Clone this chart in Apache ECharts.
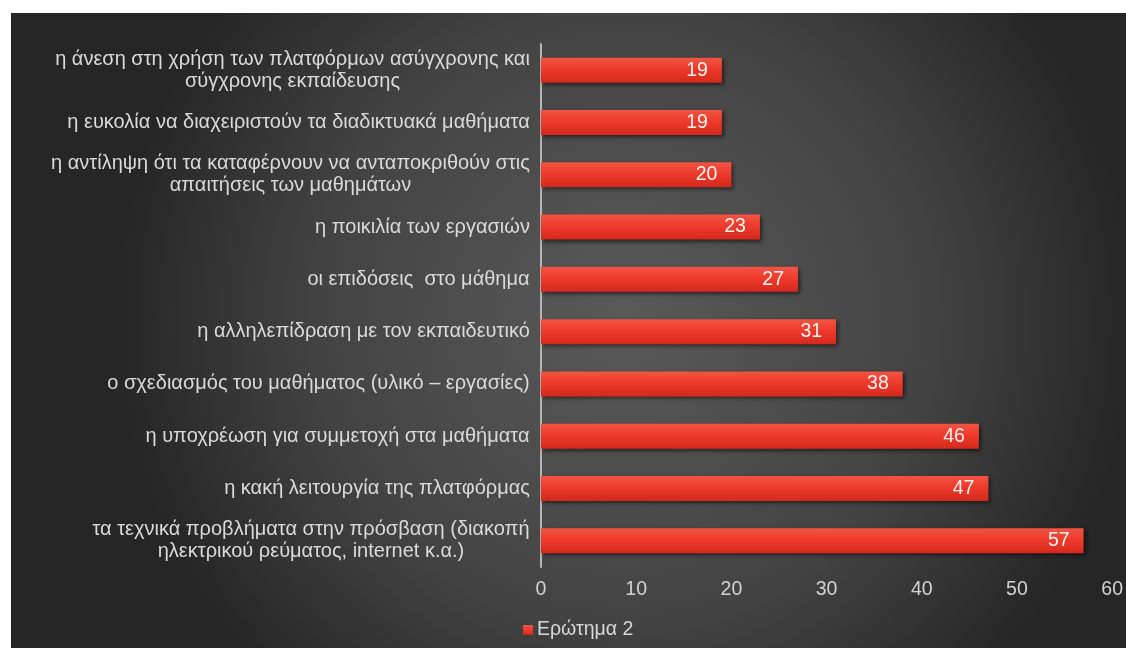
<!DOCTYPE html>
<html>
<head>
<meta charset="utf-8">
<script src="https://cdn.jsdelivr.net/npm/echarts@6/dist/echarts.min.js"></script>
<style>
  html, body { margin: 0; padding: 0; background: #fff; }
  #bar-chart { position: absolute; left: 11px; top: 13px; width: 1115px; height: 635px; }
</style>
</head>
<body>
<div id="bar-chart"></div>
<script>
// categories top -> bottom
var categories = [
  'η άνεση στη χρήση των πλατφόρμων ασύγχρονης και\nσύγχρονης εκπαίδευσης',
  'η ευκολία να διαχειριστούν τα διαδικτυακά μαθήματα',
  'η αντίληψη ότι τα καταφέρνουν να ανταποκριθούν στις\nαπαιτήσεις των μαθημάτων',
  'η ποικιλία των εργασιών',
  'οι επιδόσεις  στο μάθημα',
  'η αλληλεπίδραση με τον εκπαιδευτικό',
  'ο σχεδιασμός του μαθήματος (υλικό – εργασίες)',
  'η υποχρέωση για συμμετοχή στα μαθήματα',
  'η κακή λειτουργία της πλατφόρμας',
  'τα τεχνικά προβλήματα στην πρόσβαση (διακοπή\nηλεκτρικού ρεύματος, internet κ.α.)'
];
var values = [19, 19, 20, 23, 27, 31, 38, 46, 47, 57];
var seriesName = 'Ερώτημα 2';
var xTicks = { min: 0, max: 60, interval: 10 };

var fontFam = '"Liberation Sans", Arial, sans-serif';

// multi-line labels: lines centred on each other, block right aligned
var cv = document.createElement('canvas').getContext('2d');
cv.font = '20px ' + fontFam;
var rich = {};
categories.forEach(function (c, i) {
  var w = 0;
  c.split('\n').forEach(function (l) { w = Math.max(w, cv.measureText(l).width); });
  rich['c' + i] = { width: Math.ceil(w), align: 'center', color: '#dadada', fontSize: 20, lineHeight: 22,
    fontFamily: fontFam };
});

var myChart = echarts.init(document.getElementById('bar-chart'));
myChart.setOption({
  backgroundColor: {
    type: 'radial', x: 0.55, y: 0.48, r: 0.8,
    colorStops: [
      { offset: 0, color: '#5a5a5a' },
      { offset: 0.6, color: '#434343' },
      { offset: 1, color: '#262626' }
    ]
  },
  textStyle: { fontFamily: fontFam },
  grid: { left: 530, right: 6, top: 31, bottom: 81, containLabel: false },
  legend: {
    data: [seriesName],
    left: 507, top: 602,
    icon: 'rect', itemWidth: 10, itemHeight: 10, itemGap: 5,
    textStyle: { color: '#d8d8d8', fontSize: 19.5, padding: [0, 0, 0, -1] }
  },
  xAxis: {
    type: 'value',
    min: xTicks.min, max: xTicks.max, interval: xTicks.interval,
    axisLine: { show: false },
    axisTick: { show: false },
    splitLine: { show: false },
    axisLabel: { color: '#d2d2d2', fontSize: 19.5, margin: 13 }
  },
  yAxis: {
    type: 'category',
    inverse: true,
    data: categories,
    axisLine: { show: true, lineStyle: { color: '#b5b5b5', width: 2 } },
    axisTick: { show: false },
    axisLabel: {
      margin: 11,
      formatter: function (v, i) {
        return v.split('\n').map(function (l) { return '{c' + i + '|' + l + '}'; }).join('\n');
      },
      rich: rich
    }
  },
  series: [{
    name: seriesName,
    type: 'bar',
    data: values,
    barWidth: 25,
    itemStyle: {
      color: {
        type: 'linear', x: 0, y: 0, x2: 0, y2: 1,
        colorStops: [
          { offset: 0, color: '#f25444' },
          { offset: 0.45, color: '#ee3b2b' },
          { offset: 1, color: '#d4281c' }
        ]
      },
      shadowColor: 'rgba(0,0,0,0.55)',
      shadowBlur: 4,
      shadowOffsetX: 2,
      shadowOffsetY: 2
    },
    label: {
      show: true,
      position: 'insideRight',
      distance: 14,
      color: '#f4f4f4',
      fontSize: 19.5
    }
  }]
});
</script>
</body>
</html>
